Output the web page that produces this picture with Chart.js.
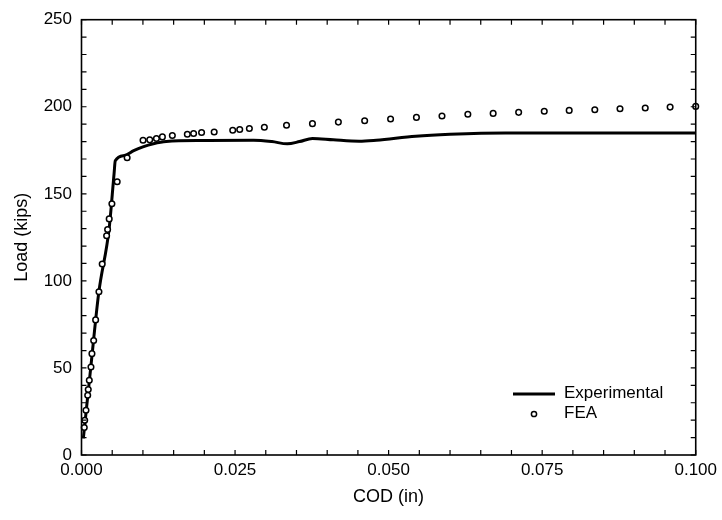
<!DOCTYPE html>
<html>
<head>
<meta charset="utf-8">
<script src="https://cdn.jsdelivr.net/npm/chart.js@4"></script>
<style>
  html, body { margin: 0; padding: 0; background: #fff; }
  #wrap { width: 722px; height: 520px; position: relative; }
</style>
</head>
<body>
<div id="wrap"><canvas id="c" width="722" height="520"></canvas></div>
<script>
// ---- data ----
const expCOD  = [0.0003, 0.0015, 0.0028, 0.0045, 0.0053, 0.0055, 0.0070, 0.0085, 0.0100, 0.0117, 0.0138, 0.0200, 0.0280, 0.0310, 0.0335, 0.0355, 0.0376, 0.0410, 0.0452, 0.0480, 0.0544, 0.0600, 0.0690, 0.0800, 0.1000];
const expLoad = [9.5, 50, 93, 130, 161.5, 169, 172, 174.8, 177, 178.8, 180.1, 180.6, 180.8, 180, 178.7, 180, 181.8, 181, 180.2, 180.8, 183.1, 184.2, 185, 185, 185];

const feaCOD  = [0.00045, 0.00052, 0.00073, 0.00101, 0.0011, 0.00127, 0.00154, 0.0017, 0.00198, 0.0023, 0.00284, 0.00337, 0.00409, 0.00425, 0.00451, 0.00495, 0.00581, 0.00743,
                 0.01002, 0.01111, 0.0122, 0.01317, 0.01479, 0.01723, 0.01825, 0.01955, 0.0216, 0.02462, 0.02576, 0.02733, 0.02977, 0.03338, 0.0376, 0.04182,
                 0.0461, 0.05032, 0.05453, 0.05869, 0.0629, 0.06702, 0.07117, 0.07534, 0.0794, 0.08357, 0.08767, 0.09178, 0.09583, 0.1];
const feaLoad = [15.8, 20.0, 25.7, 34.3, 37.6, 42.9, 50.5, 58.2, 65.8, 77.6, 93.8, 109.7, 125.9, 129.5, 135.6, 144.3, 156.9, 170.7,
                 180.8, 181, 181.8, 182.7, 183.5, 184.2, 184.6, 185.2, 185.5, 186.5, 186.9, 187.5, 188.2, 189.4, 190.3, 191.2,
                 192, 193, 193.9, 194.7, 195.7, 196.2, 196.8, 197.4, 197.9, 198.3, 198.9, 199.3, 199.8, 200.2];

const seriesLabels = ["Experimental", "FEA"];
const xTickValues = [0, 0.025, 0.05, 0.075, 0.1];
const xTickLabels = ["0.000", "0.025", "0.050", "0.075", "0.100"];
const yTickValues = [0, 50, 100, 150, 200, 250];
const xMinorStep = 0.005;
const yMinorStep = 10;
const xTitle = "COD (in)";
const yTitle = "Load (kips)";

// ---- build chart ----
const FONT = "'Liberation Sans', Arial, Helvetica, sans-serif";
const toXY = (xs, ys) => xs.map((x, i) => ({ x: x, y: ys[i] }));

const frameTicks = {
  id: 'frameTicks',
  afterDatasetsDraw(chart) {
    const { ctx, chartArea: a, scales: { x, y } } = chart;
    ctx.save();
    ctx.strokeStyle = '#000';
    ctx.lineWidth = 1.6;
    ctx.strokeRect(a.left, a.top, a.right - a.left, a.bottom - a.top);
    ctx.lineWidth = 1.2;
    const L = 5;
    ctx.beginPath();
    for (let i = 0; i * xMinorStep <= x.max + 1e-9; i++) {
      const px = x.getPixelForValue(i * xMinorStep);
      ctx.moveTo(px, a.bottom); ctx.lineTo(px, a.bottom - L);
      ctx.moveTo(px, a.top); ctx.lineTo(px, a.top + L);
    }
    for (let j = 0; j * yMinorStep <= y.max + 1e-9; j++) {
      const py = y.getPixelForValue(j * yMinorStep);
      ctx.moveTo(a.left, py); ctx.lineTo(a.left + L, py);
      ctx.moveTo(a.right, py); ctx.lineTo(a.right - L, py);
    }
    ctx.stroke();
    ctx.restore();
  },
  afterDraw(chart) {
    // legend inside plot area
    const { ctx } = chart;
    const ds = chart.data.datasets;
    ctx.save();
    ctx.font = "17px " + FONT;
    ctx.fillStyle = '#000';
    ctx.textBaseline = 'middle';
    ctx.textAlign = 'left';
    ctx.strokeStyle = '#000';
    ctx.lineWidth = 3;
    ctx.beginPath(); ctx.moveTo(513, 394); ctx.lineTo(555, 394); ctx.stroke();
    ctx.fillText(ds[0].label, 564, 393);
    ctx.lineWidth = 1.5;
    ctx.fillStyle = '#fff';
    ctx.beginPath(); ctx.arc(534, 414, 2.6, 0, Math.PI * 2); ctx.fill(); ctx.stroke();
    ctx.fillStyle = '#000';
    ctx.fillText(ds[1].label, 564, 413);
    ctx.restore();
  }
};

new Chart(document.getElementById('c'), {
  type: 'scatter',
  data: {
    datasets: [
      {
        label: seriesLabels[0],
        data: toXY(expCOD, expLoad),
        showLine: true,
        borderColor: '#000',
        borderWidth: 3,
        pointRadius: 0,
        cubicInterpolationMode: 'monotone',
        order: 1,
        clip: false
      },
      {
        label: seriesLabels[1],
        data: toXY(feaCOD, feaLoad),
        showLine: false,
        pointRadius: 2.8,
        pointBorderWidth: 1.5,
        borderColor: '#000',
        backgroundColor: '#fff',
        order: 0,
        clip: false
      }
    ]
  },
  options: {
    responsive: false,
    animation: false,
    devicePixelRatio: 1,
    layout: { padding: { top: 18, right: 24, left: 0, bottom: 0 } },
    plugins: { legend: { display: false }, tooltip: { enabled: false } },
    scales: {
      x: {
        type: 'linear',
        min: 0, max: 0.1,
        afterFit(s) { s.height = 65; },
        afterBuildTicks(s) { s.ticks = xTickValues.map(v => ({ value: v })); },
        grid: { display: false, drawTicks: false },
        border: { display: false },
        ticks: {
          padding: 5,
          color: '#000',
          font: { family: FONT, size: 17 },
          maxRotation: 0,
          callback: (v) => { const i = xTickValues.findIndex(t => Math.abs(t - v) < 1e-9); return i >= 0 ? xTickLabels[i] : ''; }
        },
        title: { display: true, text: xTitle, color: '#000', font: { family: FONT, size: 18 }, padding: { top: 0, bottom: 12 } }
      },
      y: {
        type: 'linear',
        min: 0, max: 250,
        afterFit(s) { s.width = 81.5; },
        afterBuildTicks(s) { s.ticks = yTickValues.map(v => ({ value: v })); },
        grid: { display: false, drawTicks: false },
        border: { display: false },
        ticks: { padding: 9.5, color: '#000', font: { family: FONT, size: 17 } },
        title: { display: true, text: yTitle, color: '#000', font: { family: FONT, size: 18 }, padding: { top: 11, bottom: 0 } }
      }
    }
  },
  plugins: [frameTicks]
});
</script>
</body>
</html>
